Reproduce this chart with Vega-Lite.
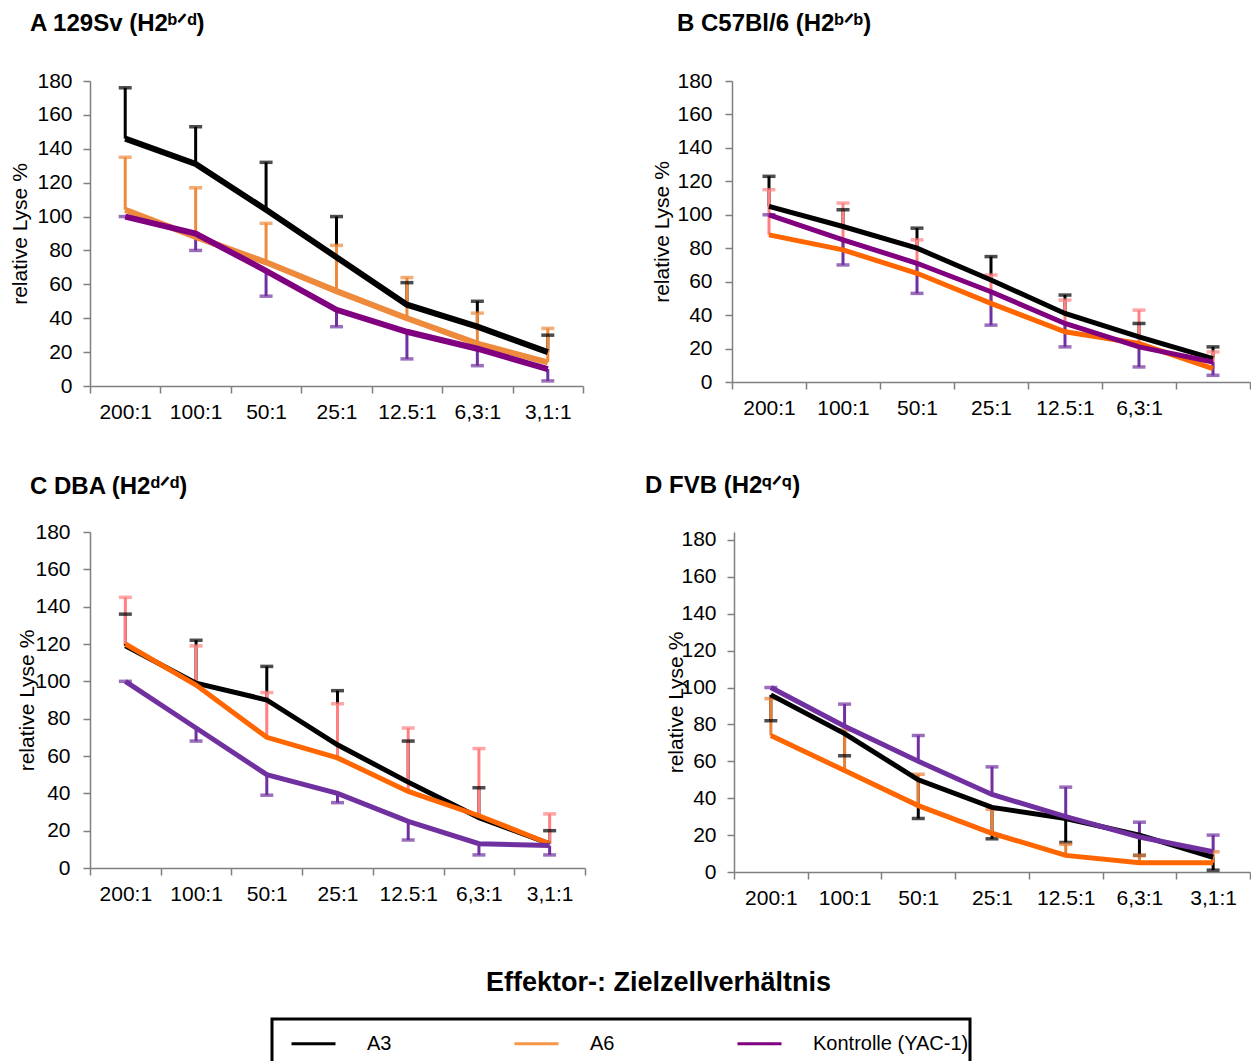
{
  "$schema": "https://vega.github.io/schema/vega-lite/v6.json",
  "padding": {"left": 9, "top": 12, "right": 0, "bottom": 0},
  "background": "white",
  "spacing": 451,
  "bounds": "flush",
  "datasets": {
    "d": [
      {"panel": "A", "series": "A3", "ratio": "200:1", "value": 146, "err": 176},
      {"panel": "A", "series": "A3", "ratio": "100:1", "value": 131, "err": 153},
      {"panel": "A", "series": "A3", "ratio": "50:1", "value": 104, "err": 132},
      {"panel": "A", "series": "A3", "ratio": "25:1", "value": 76, "err": 100},
      {"panel": "A", "series": "A3", "ratio": "12.5:1", "value": 48, "err": 61},
      {"panel": "A", "series": "A3", "ratio": "6,3:1", "value": 35, "err": 50},
      {"panel": "A", "series": "A3", "ratio": "3,1:1", "value": 20, "err": 30},
      {"panel": "A", "series": "A6", "ratio": "200:1", "value": 104, "err": 135},
      {"panel": "A", "series": "A6", "ratio": "100:1", "value": 88, "err": 117},
      {"panel": "A", "series": "A6", "ratio": "50:1", "value": 73, "err": 96},
      {"panel": "A", "series": "A6", "ratio": "25:1", "value": 56, "err": 83},
      {"panel": "A", "series": "A6", "ratio": "12.5:1", "value": 40, "err": 64},
      {"panel": "A", "series": "A6", "ratio": "6,3:1", "value": 25, "err": 43},
      {"panel": "A", "series": "A6", "ratio": "3,1:1", "value": 14, "err": 34},
      {"panel": "A", "series": "Kontrolle (YAC-1)", "ratio": "200:1", "value": 100, "err": 100},
      {"panel": "A", "series": "Kontrolle (YAC-1)", "ratio": "100:1", "value": 90, "err": 80},
      {"panel": "A", "series": "Kontrolle (YAC-1)", "ratio": "50:1", "value": 68, "err": 53},
      {"panel": "A", "series": "Kontrolle (YAC-1)", "ratio": "25:1", "value": 45, "err": 35},
      {"panel": "A", "series": "Kontrolle (YAC-1)", "ratio": "12.5:1", "value": 32, "err": 16},
      {"panel": "A", "series": "Kontrolle (YAC-1)", "ratio": "6,3:1", "value": 22, "err": 12},
      {"panel": "A", "series": "Kontrolle (YAC-1)", "ratio": "3,1:1", "value": 10, "err": 3},

      {"panel": "B", "series": "A3", "ratio": "200:1", "value": 105, "err": 123},
      {"panel": "B", "series": "A3", "ratio": "100:1", "value": 93, "err": 103},
      {"panel": "B", "series": "A3", "ratio": "50:1", "value": 80, "err": 92},
      {"panel": "B", "series": "A3", "ratio": "25:1", "value": 61, "err": 75},
      {"panel": "B", "series": "A3", "ratio": "12.5:1", "value": 41, "err": 52},
      {"panel": "B", "series": "A3", "ratio": "6,3:1", "value": 27, "err": 35},
      {"panel": "B", "series": "A3", "ratio": "3,1:1", "value": 14, "err": 21},
      {"panel": "B", "series": "A6", "ratio": "200:1", "value": 88, "err": 115},
      {"panel": "B", "series": "A6", "ratio": "100:1", "value": 79, "err": 107},
      {"panel": "B", "series": "A6", "ratio": "50:1", "value": 65, "err": 85},
      {"panel": "B", "series": "A6", "ratio": "25:1", "value": 47, "err": 64},
      {"panel": "B", "series": "A6", "ratio": "12.5:1", "value": 30, "err": 49},
      {"panel": "B", "series": "A6", "ratio": "6,3:1", "value": 23, "err": 43},
      {"panel": "B", "series": "A6", "ratio": "3,1:1", "value": 8, "err": 18},
      {"panel": "B", "series": "Kontrolle (YAC-1)", "ratio": "200:1", "value": 100, "err": 100},
      {"panel": "B", "series": "Kontrolle (YAC-1)", "ratio": "100:1", "value": 85, "err": 70},
      {"panel": "B", "series": "Kontrolle (YAC-1)", "ratio": "50:1", "value": 71, "err": 53},
      {"panel": "B", "series": "Kontrolle (YAC-1)", "ratio": "25:1", "value": 54, "err": 34},
      {"panel": "B", "series": "Kontrolle (YAC-1)", "ratio": "12.5:1", "value": 35, "err": 21},
      {"panel": "B", "series": "Kontrolle (YAC-1)", "ratio": "6,3:1", "value": 21, "err": 9},
      {"panel": "B", "series": "Kontrolle (YAC-1)", "ratio": "3,1:1", "value": 12, "err": 4},

      {"panel": "C", "series": "A3", "ratio": "200:1", "value": 119, "err": 136},
      {"panel": "C", "series": "A3", "ratio": "100:1", "value": 99, "err": 122},
      {"panel": "C", "series": "A3", "ratio": "50:1", "value": 90, "err": 108},
      {"panel": "C", "series": "A3", "ratio": "25:1", "value": 66, "err": 95},
      {"panel": "C", "series": "A3", "ratio": "12.5:1", "value": 46, "err": 68},
      {"panel": "C", "series": "A3", "ratio": "6,3:1", "value": 27, "err": 43},
      {"panel": "C", "series": "A3", "ratio": "3,1:1", "value": 13, "err": 20},
      {"panel": "C", "series": "A6", "ratio": "200:1", "value": 120, "err": 145},
      {"panel": "C", "series": "A6", "ratio": "100:1", "value": 98, "err": 119},
      {"panel": "C", "series": "A6", "ratio": "50:1", "value": 70, "err": 94},
      {"panel": "C", "series": "A6", "ratio": "25:1", "value": 59, "err": 88},
      {"panel": "C", "series": "A6", "ratio": "12.5:1", "value": 41, "err": 75},
      {"panel": "C", "series": "A6", "ratio": "6,3:1", "value": 28, "err": 64},
      {"panel": "C", "series": "A6", "ratio": "3,1:1", "value": 13, "err": 29},
      {"panel": "C", "series": "Kontrolle (YAC-1)", "ratio": "200:1", "value": 100, "err": 100},
      {"panel": "C", "series": "Kontrolle (YAC-1)", "ratio": "100:1", "value": 75, "err": 68},
      {"panel": "C", "series": "Kontrolle (YAC-1)", "ratio": "50:1", "value": 50, "err": 39},
      {"panel": "C", "series": "Kontrolle (YAC-1)", "ratio": "25:1", "value": 40, "err": 35},
      {"panel": "C", "series": "Kontrolle (YAC-1)", "ratio": "12.5:1", "value": 25, "err": 15},
      {"panel": "C", "series": "Kontrolle (YAC-1)", "ratio": "6,3:1", "value": 13, "err": 7},
      {"panel": "C", "series": "Kontrolle (YAC-1)", "ratio": "3,1:1", "value": 12, "err": 7},

      {"panel": "D", "series": "A3", "ratio": "200:1", "value": 96, "err": 82},
      {"panel": "D", "series": "A3", "ratio": "100:1", "value": 75, "err": 63},
      {"panel": "D", "series": "A3", "ratio": "50:1", "value": 50, "err": 29},
      {"panel": "D", "series": "A3", "ratio": "25:1", "value": 35, "err": 18},
      {"panel": "D", "series": "A3", "ratio": "12.5:1", "value": 29, "err": 16},
      {"panel": "D", "series": "A3", "ratio": "6,3:1", "value": 20, "err": 9},
      {"panel": "D", "series": "A3", "ratio": "3,1:1", "value": 8, "err": 1},
      {"panel": "D", "series": "A6", "ratio": "200:1", "value": 74, "err": 94},
      {"panel": "D", "series": "A6", "ratio": "100:1", "value": 55, "err": 77},
      {"panel": "D", "series": "A6", "ratio": "50:1", "value": 36, "err": 53},
      {"panel": "D", "series": "A6", "ratio": "25:1", "value": 21, "err": 34},
      {"panel": "D", "series": "A6", "ratio": "12.5:1", "value": 9, "err": 15},
      {"panel": "D", "series": "A6", "ratio": "6,3:1", "value": 5, "err": 9},
      {"panel": "D", "series": "A6", "ratio": "3,1:1", "value": 5, "err": 11},
      {"panel": "D", "series": "Kontrolle (YAC-1)", "ratio": "200:1", "value": 100, "err": 100},
      {"panel": "D", "series": "Kontrolle (YAC-1)", "ratio": "100:1", "value": 79, "err": 91},
      {"panel": "D", "series": "Kontrolle (YAC-1)", "ratio": "50:1", "value": 60, "err": 74},
      {"panel": "D", "series": "Kontrolle (YAC-1)", "ratio": "25:1", "value": 42, "err": 57},
      {"panel": "D", "series": "Kontrolle (YAC-1)", "ratio": "12.5:1", "value": 30, "err": 46},
      {"panel": "D", "series": "Kontrolle (YAC-1)", "ratio": "6,3:1", "value": 19, "err": 27},
      {"panel": "D", "series": "Kontrolle (YAC-1)", "ratio": "3,1:1", "value": 11, "err": 20}
    ]
  },
  "vconcat": [
    {
      "spacing": 149,
      "bounds": "flush",
      "hconcat": [
        {
          "width": 493, "height": 305,
          "data": {"name": "d"},
          "transform": [{"filter": {"field": "panel", "equal": "A"}}],
          "title": {"text": "A 129Sv (H2ᵇᐟᵈ)", "dx": -60, "offset": 34},
          "encoding": {
            "x": {"field": "ratio", "type": "ordinal", "sort": ["200:1", "100:1", "50:1", "25:1", "12.5:1", "6,3:1", "3,1:1"], "scale": {"type": "band", "paddingInner": 0, "paddingOuter": 0}, "axis": {"title": null, "labelAngle": 0, "tickBand": "extent", "labelPadding": 8}}
          },
          "layer": [
            {"mark": {"type": "rule", "strokeWidth": 3},
             "encoding": {
               "y": {"field": "value", "type": "quantitative", "scale": {"domain": [0, 180], "nice": false}, "title": "relative Lyse %", "axis": {"values": [0, 20, 40, 60, 80, 100, 120, 140, 160, 180], "titlePadding": 6, "labelPadding": 11}},
               "y2": {"field": "err"},
               "stroke": {"field": "series", "type": "nominal", "legend": null, "scale": {"domain": ["A3", "A6", "Kontrolle (YAC-1)"], "range": ["#000000", "#EE8A3C", "#7030A0"]}}
             }},
            {"mark": {"type": "tick", "thickness": 3.5, "size": 13},
             "encoding": {
               "y": {"field": "err", "type": "quantitative", "scale": {"domain": [0, 180], "nice": false}, "title": "relative Lyse %", "axis": {"values": [0, 20, 40, 60, 80, 100, 120, 140, 160, 180], "titlePadding": 6, "labelPadding": 11}},
               "fill": {"field": "series", "type": "nominal", "legend": null, "scale": {"domain": ["A3", "A6", "Kontrolle (YAC-1)"], "range": ["#000000", "#EE8A3C", "#7030A0"]}}
             }},
            {"mark": {"type": "line", "strokeWidth": 6},
             "encoding": {
               "y": {"field": "value", "type": "quantitative", "scale": {"domain": [0, 180], "nice": false}, "title": "relative Lyse %", "axis": {"values": [0, 20, 40, 60, 80, 100, 120, 140, 160, 180], "titlePadding": 6, "labelPadding": 11}},
               "stroke": {"field": "series", "type": "nominal", "legend": null, "scale": {"domain": ["A3", "A6", "Kontrolle (YAC-1)"], "range": ["#000000", "#EE8A3C", "#800080"]}}
             }}
          ],
          "resolve": {"scale": {"stroke": "independent", "fill": "independent"}}
        },
        {
          "width": 518, "height": 301,
          "data": {"name": "d"},
          "transform": [{"filter": {"field": "panel", "equal": "B"}}],
          "title": {"text": "B C57Bl/6 (H2ᵇᐟᵇ)", "dx": -55, "offset": 34},
          "encoding": {
            "x": {"field": "ratio", "type": "ordinal", "sort": ["200:1", "100:1", "50:1", "25:1", "12.5:1", "6,3:1", "3,1:1"], "scale": {"type": "band", "paddingInner": 0, "paddingOuter": 0}, "axis": {"title": null, "labelAngle": 0, "tickBand": "extent", "labelPadding": 8, "labelExpr": "datum.label == '3,1:1' ? '' : datum.label"}}
          },
          "layer": [
            {"mark": {"type": "rule", "strokeWidth": 3},
             "encoding": {
               "y": {"field": "value", "type": "quantitative", "scale": {"domain": [0, 180], "nice": false}, "title": "relative Lyse %", "axis": {"values": [0, 20, 40, 60, 80, 100, 120, 140, 160, 180], "titlePadding": 4, "labelPadding": 13}},
               "y2": {"field": "err"},
               "stroke": {"field": "series", "type": "nominal", "legend": null, "scale": {"domain": ["A3", "A6", "Kontrolle (YAC-1)"], "range": ["#000000", "#FF8080", "#7030A0"]}}
             }},
            {"mark": {"type": "tick", "thickness": 3.5, "size": 13},
             "encoding": {
               "y": {"field": "err", "type": "quantitative", "scale": {"domain": [0, 180], "nice": false}, "title": "relative Lyse %", "axis": {"values": [0, 20, 40, 60, 80, 100, 120, 140, 160, 180], "titlePadding": 4, "labelPadding": 13}},
               "fill": {"field": "series", "type": "nominal", "legend": null, "scale": {"domain": ["A3", "A6", "Kontrolle (YAC-1)"], "range": ["#000000", "#FF8080", "#7030A0"]}}
             }},
            {"mark": {"type": "line", "strokeWidth": 5},
             "encoding": {
               "y": {"field": "value", "type": "quantitative", "scale": {"domain": [0, 180], "nice": false}, "title": "relative Lyse %", "axis": {"values": [0, 20, 40, 60, 80, 100, 120, 140, 160, 180], "titlePadding": 4, "labelPadding": 13}},
               "stroke": {"field": "series", "type": "nominal", "legend": null, "scale": {"domain": ["A3", "A6", "Kontrolle (YAC-1)"], "range": ["#000000", "#FF6600", "#800080"]}}
             }}
          ],
          "resolve": {"scale": {"stroke": "independent", "fill": "independent"}}
        }
      ]
    },
    {
      "spacing": 149,
      "bounds": "flush",
      "hconcat": [
        {
          "width": 495, "height": 336,
          "data": {"name": "d"},
          "transform": [{"filter": {"field": "panel", "equal": "C"}}],
          "title": {"text": "C DBA (H2ᵈᐟᵈ)", "dx": -60, "offset": 22},
          "encoding": {
            "x": {"field": "ratio", "type": "ordinal", "sort": ["200:1", "100:1", "50:1", "25:1", "12.5:1", "6,3:1", "3,1:1"], "scale": {"type": "band", "paddingInner": 0, "paddingOuter": 0}, "axis": {"title": null, "labelAngle": 0, "tickBand": "extent", "labelPadding": 8}}
          },
          "layer": [
            {"mark": {"type": "rule", "strokeWidth": 3},
             "encoding": {
               "y": {"field": "value", "type": "quantitative", "scale": {"domain": [0, 180], "nice": false}, "title": "relative Lyse %", "axis": {"values": [0, 20, 40, 60, 80, 100, 120, 140, 160, 180], "titlePadding": -3, "labelPadding": 13}},
               "y2": {"field": "err"},
               "stroke": {"field": "series", "type": "nominal", "legend": null, "scale": {"domain": ["A3", "A6", "Kontrolle (YAC-1)"], "range": ["#000000", "#FF8080", "#7030A0"]}}
             }},
            {"mark": {"type": "tick", "thickness": 3.5, "size": 13},
             "encoding": {
               "y": {"field": "err", "type": "quantitative", "scale": {"domain": [0, 180], "nice": false}, "title": "relative Lyse %", "axis": {"values": [0, 20, 40, 60, 80, 100, 120, 140, 160, 180], "titlePadding": -3, "labelPadding": 13}},
               "fill": {"field": "series", "type": "nominal", "legend": null, "scale": {"domain": ["A3", "A6", "Kontrolle (YAC-1)"], "range": ["#000000", "#FF8080", "#7030A0"]}}
             }},
            {"mark": {"type": "line", "strokeWidth": 5},
             "encoding": {
               "y": {"field": "value", "type": "quantitative", "scale": {"domain": [0, 180], "nice": false}, "title": "relative Lyse %", "axis": {"values": [0, 20, 40, 60, 80, 100, 120, 140, 160, 180], "titlePadding": -3, "labelPadding": 13}},
               "stroke": {"field": "series", "type": "nominal", "legend": null, "scale": {"domain": ["A3", "A6", "Kontrolle (YAC-1)"], "range": ["#000000", "#FF6600", "#7030A0"]}}
             }}
          ],
          "resolve": {"scale": {"stroke": "independent", "fill": "independent"}}
        },
        {
          "width": 516, "height": 340,
          "data": {"name": "d"},
          "transform": [{"filter": {"field": "panel", "equal": "D"}}],
          "title": {"text": "D FVB (H2𐞥ᐟ𐞥)", "dx": -89, "offset": 31},
          "encoding": {
            "x": {"field": "ratio", "type": "ordinal", "sort": ["200:1", "100:1", "50:1", "25:1", "12.5:1", "6,3:1", "3,1:1"], "scale": {"type": "band", "paddingInner": 0, "paddingOuter": 0}, "axis": {"title": null, "labelAngle": 0, "tickBand": "extent", "labelPadding": 8}}
          },
          "layer": [
            {"mark": {"type": "rule", "strokeWidth": 3},
             "encoding": {
               "y": {"field": "value", "type": "quantitative", "scale": {"domain": [0, 184.3], "nice": false}, "title": "relative Lyse %", "axis": {"values": [0, 20, 40, 60, 80, 100, 120, 140, 160, 180], "titlePadding": -6, "labelPadding": 11}},
               "y2": {"field": "err"},
               "stroke": {"field": "series", "type": "nominal", "legend": null, "scale": {"domain": ["A3", "A6", "Kontrolle (YAC-1)"], "range": ["#000000", "#E8803A", "#7030A0"]}}
             }},
            {"mark": {"type": "tick", "thickness": 3.5, "size": 13},
             "encoding": {
               "y": {"field": "err", "type": "quantitative", "scale": {"domain": [0, 184.3], "nice": false}, "title": "relative Lyse %", "axis": {"values": [0, 20, 40, 60, 80, 100, 120, 140, 160, 180], "titlePadding": -6, "labelPadding": 11}},
               "fill": {"field": "series", "type": "nominal", "legend": null, "scale": {"domain": ["A3", "A6", "Kontrolle (YAC-1)"], "range": ["#000000", "#E8803A", "#7030A0"]}}
             }},
            {"mark": {"type": "line", "strokeWidth": 5},
             "encoding": {
               "y": {"field": "value", "type": "quantitative", "scale": {"domain": [0, 184.3], "nice": false}, "title": "relative Lyse %", "axis": {"values": [0, 20, 40, 60, 80, 100, 120, 140, 160, 180], "titlePadding": -6, "labelPadding": 11}},
               "stroke": {"field": "series", "type": "nominal", "legend": null, "scale": {"domain": ["A3", "A6", "Kontrolle (YAC-1)"], "range": ["#000000", "#FF6600", "#7030A0"]}}
             }}
          ],
          "resolve": {"scale": {"stroke": "independent", "fill": "independent"}}
        }
      ]
    },
    {
      "width": 1150, "height": 1,
      "data": {"values": []},
      "mark": {"type": "line"},
      "encoding": {
        "color": {"field": "series", "type": "nominal", "scale": {"domain": ["A3", "A6", "Kontrolle (YAC-1)"], "range": ["#000000", "#F79646", "#800080"]},
          "legend": {"title": " ", "titleOrient": "bottom", "titlePadding": 0, "titleFontSize": 14, "orient": "none", "legendX": 182, "legendY": 938, "direction": "horizontal", "columns": 3, "symbolType": "stroke", "symbolSize": 1936, "symbolStrokeWidth": 3, "symbolOpacity": 1, "symbolOffset": 17, "labelOffset": 30, "columnPadding": 104, "labelFontSize": 20, "labelLimit": 300, "labelFont": "Liberation Sans", "labelColor": "#000", "padding": 1, "strokeColor": "#000"}}
      },
      "title": {"text": "Effektor-:  Zielzellverhältnis", "fontSize": 27, "dx": 396, "offset": -14}
    }
  ],
  "resolve": {"scale": {"stroke": "independent", "fill": "independent"}},
  "config": {
    "view": {"stroke": null},
    "font": "Liberation Sans",
    "title": {"fontSize": 24, "fontWeight": "bold", "anchor": "start", "frame": "group", "color": "#000", "font": "Liberation Sans"},
    "axis": {"labelFont": "Liberation Sans", "labelFontSize": 21, "labelColor": "#000", "titleFont": "Liberation Sans", "titleFontSize": 21, "titleFontWeight": "normal", "titleColor": "#000", "domainColor": "#7F7F7F", "domainWidth": 1.5, "tickColor": "#7F7F7F", "tickWidth": 1.5, "tickSize": 7, "grid": false, "labelOverlap": false},
    "legend": {"strokeWidth": 3}
  }
}
